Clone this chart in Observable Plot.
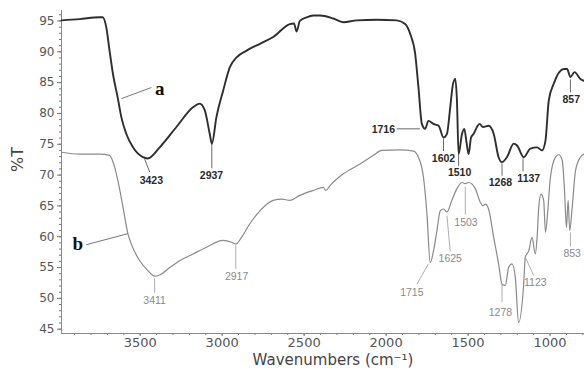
<!DOCTYPE html>
<html>
<head>
<meta charset="utf-8">
<script src="https://cdn.jsdelivr.net/npm/d3@7"></script>
<script src="https://cdn.jsdelivr.net/npm/@observablehq/plot@0.6"></script>
<style>
  html, body { margin: 0; padding: 0; background: #fff; }
  #chart svg { display: block; }
</style>
</head>
<body>
<div id="chart"></div>
<script>
// ---- Spectrum a (dark) ----
const waveA = [3980, 3870, 3748, 3729, 3707, 3687, 3666, 3636, 3615, 3585, 3544, 3483, 3454, 3381, 3279, 3178, 3137, 3106, 3076, 3063, 3035, 2994, 2953, 2912, 2851, 2770, 2689, 2587, 2562, 2546, 2526, 2485, 2444, 2403, 2322, 2261, 2179, 2057, 1935, 1884, 1853, 1823, 1803, 1782, 1762, 1742, 1711, 1680, 1650, 1629, 1609, 1592, 1578, 1568, 1558, 1537, 1523, 1511, 1497, 1482, 1466, 1446, 1430, 1409, 1375, 1344, 1314, 1293, 1263, 1222, 1201, 1161, 1120, 1079, 1049, 1028, 1008, 978, 917, 896, 876, 851, 815, 794];
const transA = [95.1, 95.3, 95.6, 95.6, 94.0, 90.2, 86.4, 82.4, 79.4, 76.7, 74.5, 72.9, 72.7, 74.5, 77.8, 81.0, 81.6, 80.5, 76.7, 75.1, 79.4, 83.7, 87.5, 89.1, 90.2, 91.3, 92.4, 94.5, 94.6, 93.3, 95.0, 95.6, 95.9, 95.9, 95.4, 94.8, 95.1, 95.2, 95.1, 94.5, 92.9, 89.7, 84.3, 78.3, 77.5, 78.8, 78.3, 78.0, 76.1, 76.7, 81.0, 84.8, 85.6, 82.1, 73.4, 76.7, 77.5, 75.6, 73.4, 76.1, 76.7, 77.8, 78.3, 77.8, 78.0, 76.7, 72.9, 72.1, 72.9, 75.1, 74.8, 72.9, 74.3, 74.5, 74.0, 75.6, 82.1, 84.8, 87.2, 87.2, 85.9, 86.7, 85.6, 85.3];

// ---- Spectrum b (gray) ----
const waveB = [3980, 3870, 3748, 3687, 3656, 3636, 3605, 3575, 3554, 3503, 3453, 3412, 3381, 3320, 3259, 3178, 3096, 2994, 2943, 2917, 2882, 2831, 2770, 2689, 2637, 2587, 2526, 2444, 2383, 2367, 2342, 2261, 2159, 2078, 2026, 1914, 1833, 1803, 1772, 1751, 1731, 1711, 1690, 1670, 1650, 1629, 1599, 1568, 1537, 1517, 1497, 1456, 1426, 1409, 1395, 1375, 1344, 1314, 1293, 1273, 1253, 1232, 1212, 1192, 1161, 1151, 1130, 1110, 1090, 1079, 1069, 1055, 1039, 1028, 1014, 998, 967, 947, 926, 912, 900, 890, 880, 865, 845, 815, 794];
const transB = [73.7, 73.4, 73.4, 73.2, 71.3, 69.1, 64.8, 60.5, 58.8, 56.1, 54.5, 53.6, 53.8, 55.0, 56.1, 57.2, 58.3, 59.4, 59.1, 58.8, 59.9, 62.1, 64.2, 65.9, 66.1, 65.9, 66.7, 67.5, 68.0, 67.5, 68.3, 70.2, 71.8, 73.2, 74.0, 74.1, 73.9, 72.9, 69.6, 63.7, 55.8, 57.7, 61.0, 64.2, 64.5, 64.0, 65.9, 67.8, 68.8, 68.6, 68.8, 67.8, 65.6, 65.0, 65.3, 64.5, 59.9, 55.6, 52.3, 52.1, 55.0, 55.6, 53.4, 46.1, 52.3, 56.7, 57.7, 59.9, 57.2, 59.9, 64.8, 66.9, 65.9, 60.7, 64.2, 69.6, 72.9, 73.3, 72.4, 67.5, 61.5, 65.9, 61.0, 64.8, 70.7, 72.9, 73.4];

// ---- Peak annotations, spectrum a ----
const peakTextA = ["3423", "2937", "1716", "1602", "1510", "1268", "1137", "857"];
const peakTextXA = [3432, 3065, 2017, 1650, 1552, 1303, 1130, 871];
const peakTextYA = [69.1, 69.9, 77.4, 72.7, 70.4, 68.8, 69.5, 82.2];
const leadX1A = [3473, 3063, 1935, 1650, 1558, 1293, 1165, 876];
const leadY1A = [72.6, 75.1, 77.5, 75.9, 73.6, 71.9, 72.7, 85.5];
const leadX2A = [3442, 3063, 1792, 1650, 1558, 1293, 1165, 876];
const leadY2A = [70.5, 71.1, 77.5, 73.9, 71.5, 69.9, 70.6, 83.4];

// ---- Peak annotations, spectrum b ----
const peakTextB = ["3411", "2917", "1715", "1625", "1503", "1278", "1123", "853"];
const peakTextXB = [3412, 2912, 1843, 1609, 1513, 1303, 1090, 865];
const peakTextYB = [49.6, 53.6, 51.0, 56.4, 62.3, 47.7, 52.6, 57.2];
const leadX1B = [3412, 2917, 1742, 1629, 1517, 1293, 1151, 876];
const leadY1B = [53.2, 58.6, 55.6, 63.4, 68.1, 52.3, 56.7, 60.7];
const leadX2B = [3412, 2917, 1812, 1609, 1517, 1293, 1100, 876];
const leadY2B = [50.9, 54.8, 52.3, 57.6, 63.6, 49.4, 53.7, 58.4];

// ---- Series labels "a" / "b" ----
const seriesNames = ["a", "b"];
const seriesTextX = [3381, 3880];
const seriesTextY = [84.0, 58.8];
const seriesLeadX1 = [3615, 3575];
const seriesLeadY1 = [82.4, 60.5];
const seriesLeadX2 = [3432, 3829];
const seriesLeadY2 = [84.2, 58.7];

// ---- Axes ----
const xDomain = [3980, 790];
const yDomain = [44.3, 96.7];
const xMajorTicks = [3500, 3000, 2500, 2000, 1500, 1000];
const xMinorTicks = d3.range(800, 3901, 100);
const yMajorTicks = [45, 50, 55, 60, 65, 70, 75, 80, 85, 90, 95];
const yMinorTicks = d3.range(45, 97, 1);
const xTitle = "Wavenumbers (cm\u207B\u00B9)";
const yTitle = "%T";

const dataA = waveA.map((w, i) => ({wn: w, t: transA[i]}));
const dataB = waveB.map((w, i) => ({wn: w, t: transB[i]}));
const labA = peakTextA.map((s, i) => ({s, x: peakTextXA[i], y: peakTextYA[i], x1: leadX1A[i], y1: leadY1A[i], x2: leadX2A[i], y2: leadY2A[i]}));
const labB = peakTextB.map((s, i) => ({s, x: peakTextXB[i], y: peakTextYB[i], x1: leadX1B[i], y1: leadY1B[i], x2: leadX2B[i], y2: leadY2B[i]}));
const ser = seriesNames.map((s, i) => ({s, x: seriesTextX[i], y: seriesTextY[i], x1: seriesLeadX1[i], y1: seriesLeadY1[i], x2: seriesLeadX2[i], y2: seriesLeadY2[i]}));

const chart = Plot.plot({
  width: 584,
  height: 376,
  marginLeft: 61,
  marginRight: 0,
  marginTop: 10,
  marginBottom: 43,
  style: {fontFamily: "DejaVu Sans", background: "#fff"},
  x: {domain: xDomain},
  y: {domain: yDomain},
  marks: [
    Plot.axisX({ticks: xMinorTicks, tickSize: 2, text: null, stroke: "#777", label: null}),
    Plot.axisX({ticks: xMajorTicks, tickSize: 3, tickPadding: 1, tickFormat: d => String(d), fontSize: 13, fill: "#555", stroke: "#777", label: null}),
    Plot.axisY({ticks: yMinorTicks, tickSize: 2, text: null, stroke: "#777", label: null}),
    Plot.axisY({ticks: yMajorTicks, tickSize: 4, tickPadding: 3, tickFormat: d => String(d), fontSize: 12, fill: "#555", stroke: "#777", label: null}),
    Plot.ruleX([xDomain[0]], {stroke: "#888", strokeWidth: 1}),
    Plot.ruleY([yDomain[0]], {stroke: "#888", strokeWidth: 1}),
    Plot.text([xTitle], {frameAnchor: "bottom", dy: 31, dx: 10, fontSize: 15, fill: "#444"}),
    Plot.text([yTitle], {frameAnchor: "left", dx: -44, rotate: -90, fontSize: 16, fill: "#444"}),
    Plot.line(dataB, {x: "wn", y: "t", stroke: "#8a8a8a", strokeWidth: 1.2, curve: "monotone-x"}),
    Plot.line(dataA, {x: "wn", y: "t", stroke: "#2e2e2e", strokeWidth: 1.9, curve: "monotone-x"}),
    Plot.link(labA, {x1: "x1", y1: "y1", x2: "x2", y2: "y2", stroke: "#444", strokeWidth: 0.8}),
    Plot.link(labB, {x1: "x1", y1: "y1", x2: "x2", y2: "y2", stroke: "#999", strokeWidth: 0.8}),
    Plot.text(labA, {x: "x", y: "y", text: "s", fontSize: 10.5, fontWeight: "bold", fill: "#2a2a2a", fontFamily: "Liberation Sans"}),
    Plot.text(labB, {x: "x", y: "y", text: "s", fontSize: 10.5, fill: "#8a8a8a", fontFamily: "Liberation Sans"}),
    Plot.link(ser, {x1: "x1", y1: "y1", x2: "x2", y2: "y2", stroke: "#666", strokeWidth: 0.9}),
    Plot.text(ser, {x: "x", y: "y", text: "s", fontSize: 19, fontWeight: "bold", fill: "#111", fontFamily: "Liberation Serif"})
  ]
});
document.getElementById("chart").appendChild(chart);
</script>
</body>
</html>
